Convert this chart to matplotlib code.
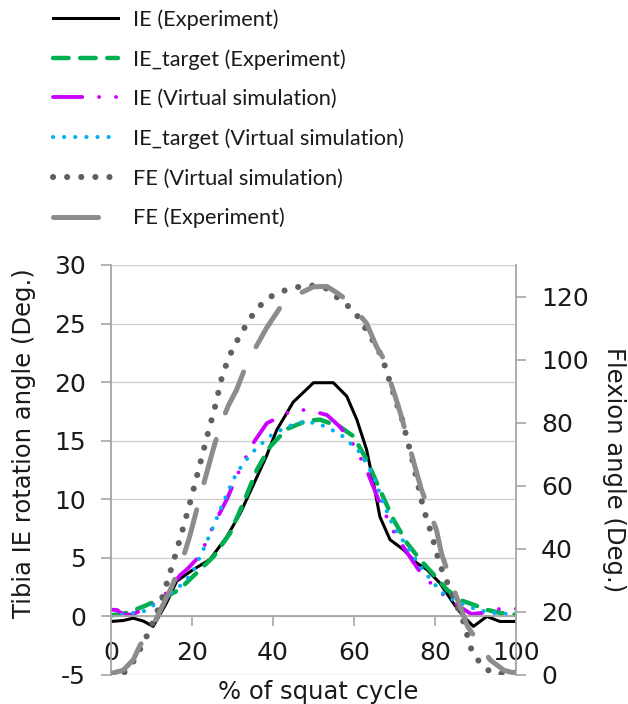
import matplotlib
matplotlib.use("Agg")
import matplotlib.pyplot as plt

plt.rcParams["axes.unicode_minus"] = False

# % of squat cycle / angle values
ie_exp_x = [0, 3, 5.5, 8, 10.4, 12, 13.7, 16.2, 20.3, 24.4, 28.6, 31.9, 35.1, 38.4, 40.9, 45, 50,
            54.9, 58.2, 60.7, 63.1, 64.8, 66.4, 68.9, 72.2, 75.5, 78, 81.2, 84.5, 87, 89.5, 92.8, 96, 100]
ie_exp_y = [-0.43, -0.35, -0.15, -0.4, -0.85, 0.1, 1.15, 3.0, 4.0, 4.85, 6.8, 8.8, 11.2, 13.7, 15.9, 18.3, 19.95,
            19.95, 18.8, 16.8, 14.25, 11.4, 8.5, 6.55, 5.7, 4.55, 4.0, 2.85, 1.15, 0.0, -0.85, 0.0, -0.43, -0.43]

ie_tgt_exp_x = [0, 4, 8, 13.7, 16.9, 22, 25.3, 29.4, 32.7, 36, 39.3, 43.4, 48.3, 51.6, 56.5, 59.8, 63.1,
                66.4, 69.7, 73, 76.3, 79.6, 82.9, 86.2, 89.5, 92.8, 96, 100]
ie_tgt_exp_y = [0.1, 0.3, 0.85, 1.7, 2.3, 4.0, 5.1, 7.1, 9.7, 12.5, 14.5, 16.0, 16.7, 16.8, 16.2, 15.4, 13.4,
                10.8, 8.3, 6.3, 4.85, 3.6, 2.3, 1.4, 1.0, 0.57, 0.3, 0.15]

ie_sim_x = [0, 1.5, 3, 5, 8, 12, 15, 17, 19, 22, 25.2, 28.6, 31.5, 34.6, 35.5, 38.5, 42, 45.4, 48, 50,
            53.3, 56.5, 60, 63, 66, 69.7, 73, 76.3, 79.6, 82.9, 86.2, 89, 91.5, 94, 97, 100]
ie_sim_y = [0.57, 0.55, 0.15, 0.15, 0.57, 1.3, 2.6, 3.5, 4.1, 5.2, 7.7, 10.0, 12.3, 14.5, 15.0, 16.5, 17.1, 17.7, 17.6, 17.5,
            17.2, 16.2, 14.6, 12.6, 10.0, 7.3, 5.5, 3.8, 2.6, 1.6, 0.8, 0.2, 0.3, 0.6, 0.65, 0.65]

ie_tgt_sim_x = [0, 4, 8.8, 12.1, 16.2, 19.9, 22.8, 25.3, 27.7, 30.2, 32.7, 35.6, 39.3, 43.4, 47.4, 51,
                56.5, 61.5, 64.8, 67.2, 69.7, 73, 76.3, 79.6, 82.9, 86.2, 90.3, 94.4, 100]
ie_tgt_sim_y = [0.0, 0.2, 0.5, 1.4, 2.3, 3.6, 5.7, 7.7, 9.7, 11.7, 13.1, 14.25, 15.4, 16.2, 16.6, 16.5,
                15.6, 14.0, 12.0, 9.7, 7.7, 6.0, 4.3, 2.85, 1.7, 1.15, 0.57, 0.3, 0.15]

fe_sim_x = [0, 3, 5, 7.5, 9.6, 12, 14, 16, 18, 20, 22, 24, 25.5, 27.3, 28.6, 30, 31.7, 33.7, 35.8, 38.7, 42,
            46, 50, 53.3, 56.5, 60, 63, 65.6, 67, 70.5, 71.8, 74.6, 77.1, 79.2, 81.2, 84.1, 86.9, 89, 91.1,
            94, 97.7, 100]
fe_sim_y = [0, 0.5, 3, 9, 14.3, 22, 30, 38.5, 47.5, 57, 67, 77, 84, 94, 99, 103.3, 107.3, 111.7, 115.8, 119.5, 121.6,
            123, 123.5, 122.5, 119, 115.5, 109.5, 104, 100.5, 86.2, 81.5, 67.2, 53, 44.4, 35, 26, 17.4, 8, 3.8,
            0.6, 0.3, 0.8]

fe_exp_x = [0, 3, 5.5, 7.2, 9.6, 12, 15, 17.5, 19.4, 22, 25.2, 26.9, 29, 31, 33.1, 36, 38.4, 41.7, 45.8, 50,
            53.3, 56, 58.2, 60.5, 63.1, 65.6, 67, 70.5, 71.8, 74.8, 76.6, 80.4, 81.6, 85.3, 88, 90.3, 93.6, 97, 100]
fe_exp_y = [0.5, 1.5, 4.8, 9.5, 13.6, 20, 28, 36, 43.8, 56.5, 71.4, 78.8, 85.5, 90.4, 97.3, 104.5, 110, 116.4, 120.5, 123.1,
            123.2, 121, 118.9, 115.5, 111.5, 104, 101, 87, 81.5, 67.2, 59, 45.8, 38.5, 24.8, 15.5, 11.1, 4.8, 1.5, 0.5]

labels = ["IE (Experiment)", "IE_target (Experiment)", "IE (Virtual simulation)",
          "IE_target (Virtual simulation)", "FE (Virtual simulation)", "FE (Experiment)"]

W, H = 628, 704
fig = plt.figure(figsize=(W / 100, H / 100), dpi=100)
ax = fig.add_axes([111 / W, 1 - 675 / H, 405 / W, 410 / H])
ax2 = ax.twinx()

spine_c = "#a6a6a6"
text_c = "#1a1a1a"

l1, = ax.plot(ie_exp_x, ie_exp_y, color="black", lw=2.2)
l2, = ax.plot(ie_tgt_exp_x, ie_tgt_exp_y, color="#00b050", lw=3.2,
              linestyle=(0, (3.5, 2.6)), dash_capstyle="round")
l3, = ax.plot(ie_sim_x, ie_sim_y, color="#cc00ff", lw=2.8,
              linestyle=(0, (7.5, 4.35, 0.01, 4.35, 0.01, 4.35)), dash_capstyle="round")
l4, = ax.plot(ie_tgt_sim_x, ie_tgt_sim_y, color="#00b0f0", lw=3.0,
              linestyle=(0, (0.01, 2.66)), dash_capstyle="round")
l5, = ax2.plot(fe_sim_x, fe_sim_y, color="#606060", lw=4.4,
               linestyle=(0, (0.01, 2.3)), dash_capstyle="round")
l6, = ax2.plot(fe_exp_x, fe_exp_y, color="#8c8c8c", lw=3.6,
               linestyle=(0, (9, 5.6)), dash_capstyle="round")

ax.set_xlim(0, 100)
ax.set_ylim(-5, 30)
ax2.set_ylim(0, 130)
ax.set_xticks(range(0, 101, 20))
ax.set_yticks(range(-5, 31, 5))
ax2.set_yticks(range(0, 121, 20))

ax.grid(axis="y", color="#cfcfcf", lw=1.0)
ax.set_axisbelow(True)

ax.spines["top"].set_visible(False)
ax.spines["right"].set_visible(False)
ax.spines["bottom"].set_position(("data", 0))
for s in ["left", "bottom"]:
    ax.spines[s].set_color(spine_c)
    ax.spines[s].set_linewidth(1.3)
for s in ["top", "left", "bottom"]:
    ax2.spines[s].set_visible(False)
ax2.spines["right"].set_color(spine_c)
ax2.spines["right"].set_linewidth(1.3)

ax.tick_params(axis="both", direction="out", length=7.5, width=1.2, color=spine_c,
               pad=10.5, labelsize=18, labelcolor=text_c)
ax2.tick_params(axis="y", direction="out", length=7.5, width=1.2, color=spine_c,
                pad=10.5, labelsize=18, labelcolor=text_c)

fig.text(24 / W, 1 - 443 / H, "Tibia IE rotation angle (Deg.)", rotation=90,
         ha="center", va="center", fontsize=17.5, color=text_c)
fig.text(614 / W, 1 - 470 / H, "Flexion angle (Deg.)", rotation=-90,
         ha="center", va="center", fontsize=17.5, color=text_c)
fig.text(318 / W, 1 - 692 / H, "% of squat cycle",
         ha="center", va="center", fontsize=17.5, color=text_c)

fig.legend([l1, l2, l3, l4, l5, l6], labels, loc="upper left",
           bbox_to_anchor=(53 / W, 1 - 9 / H), frameon=False, borderpad=0, borderaxespad=0,
           prop={"family": "Lato", "size": 15.7}, handlelength=2.98, handletextpad=0.69,
           labelspacing=0.89, labelcolor=text_c)

fig.savefig("out.png", dpi=100)
